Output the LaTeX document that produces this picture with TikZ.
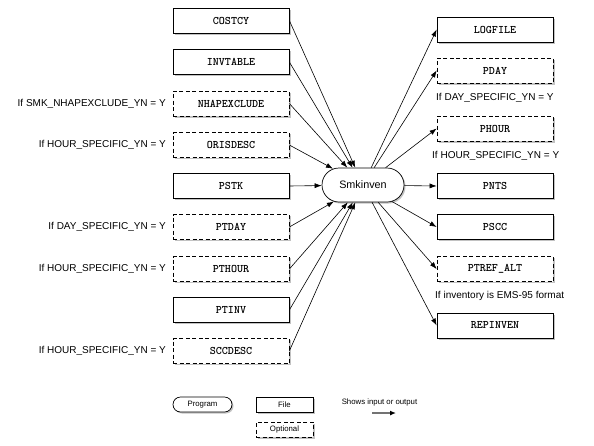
\documentclass[tikz,border=0pt]{standalone}
\usepackage{fontspec}
\setmainfont{Liberation Sans}
\usetikzlibrary{arrows.meta,shadows,shapes.misc}
\begin{document}
\begin{tikzpicture}[x=1pt,y=-1pt,
  filebox/.style={draw, line width=0.7pt, minimum width=116pt, minimum height=25pt, inner sep=0pt, fill=white,
    drop shadow={shadow xshift=1.5pt, shadow yshift=-1.5pt, fill=black!40, opacity=0.6},
    font=\ttfamily\bfseries\fontsize{11.5}{13}\selectfont},
  optbox/.style={filebox, dash pattern=on 4pt off 2.5pt},
  cond/.style={inner sep=0pt, font=\fontsize{10}{12}\selectfont},
  prog/.style={draw, line width=0.7pt, rounded rectangle, fill=white, inner sep=0pt,
    drop shadow={shadow xshift=1.5pt, shadow yshift=-1.5pt, fill=black!40, opacity=0.6}},
  arr/.style={line width=0.6pt, -{Latex[length=7pt,width=5pt]}},
  legtext/.style={font=\fontsize{7.8}{9}\selectfont}
]
\useasboundingbox (0,0) rectangle (594,445);
% program
\node[prog, minimum width=82pt, minimum height=34pt, font=\fontsize{10.8}{12}\selectfont] (smk) at (363,185) {Smkinven};
% left inputs
\node[filebox] (costcy) at (231,20.5) {COSTCY};
\node[filebox] (invtable) at (231,62) {INVTABLE};
\node[optbox] (nhap) at (231,103.5) {NHAPEXCLUDE};
\node[optbox] (oris) at (231,145) {ORISDESC};
\node[filebox] (pstk) at (231,186) {PSTK};
\node[optbox] (ptday) at (231,227) {PTDAY};
\node[optbox] (pthour) at (231,269) {PTHOUR};
\node[filebox] (ptinv) at (231,310) {PTINV};
\node[optbox] (sccdesc) at (231,351) {SCCDESC};
% left conditions
\node[cond, anchor=east] (cnhap) at (166,103.5) {If SMK\_NHAPEXCLUDE\_YN = Y};
\node[cond, anchor=east] (coris) at (166,145) {If HOUR\_SPECIFIC\_YN = Y};
\node[cond, anchor=east] (cptday) at (166,227) {If DAY\_SPECIFIC\_YN = Y};
\node[cond, anchor=east] (cpthour) at (166,269) {If HOUR\_SPECIFIC\_YN = Y};
\node[cond, anchor=east] (cscc) at (166,351) {If HOUR\_SPECIFIC\_YN = Y};
% right outputs
\node[filebox] (logfile) at (495,29.5) {LOGFILE};
\node[optbox] (pday) at (495,70.5) {PDAY};
\node[optbox] (phour) at (495,128.5) {PHOUR};
\node[filebox] (pnts) at (495,186) {PNTS};
\node[filebox] (pscc) at (495,227) {PSCC};
\node[optbox] (ptref) at (495,269) {PTREF\_ALT};
\node[filebox] (repinven) at (495,325.5) {REPINVEN};
% right conditions
\node[cond, anchor=west] (cpday) at (436,98) {If DAY\_SPECIFIC\_YN = Y};
\node[cond, anchor=west] (cphour) at (432,156) {If HOUR\_SPECIFIC\_YN = Y};
\node[cond, anchor=west] (cptref) at (435,296) {If inventory is EMS-95 format};
% input arrows
\foreach \n in {costcy,invtable,nhap,oris,pstk,ptday,pthour,ptinv,sccdesc}
  \draw[arr] (\n.east) -- (smk);
% output arrows
\foreach \n in {logfile,pday,phour,pnts,pscc,ptref,repinven}
  \draw[arr] (smk) -- (\n.west);
% legend
\node[prog, minimum width=59pt, minimum height=15pt, legtext] (lprog) at (202.5,404.5) {Program};
\node[filebox, minimum width=57pt, minimum height=15pt, font=\fontsize{7.8}{9}\selectfont] (lfile) at (284.5,404.5) {File};
\node[optbox, minimum width=57pt, minimum height=15pt, font=\fontsize{7.8}{9}\selectfont] (lopt) at (284.5,429.5) {Optional};
\node[legtext, inner sep=0pt] (lshow) at (379.5,402) {Shows input or output};
\coordinate (la) at (372,413);
\coordinate (lb) at (396,413);
\draw[line width=1.2pt, black!55, -{Latex[length=6pt,width=5pt,fill=black,color=black]}] (la) -- (lb);
\end{tikzpicture}
\end{document}
